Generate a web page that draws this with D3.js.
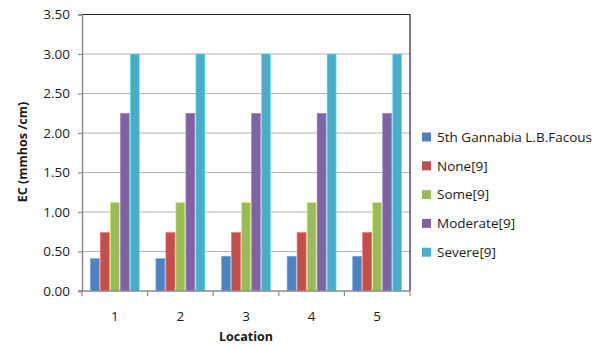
<!DOCTYPE html>
<html>
<head>
<meta charset="utf-8">
<script src="https://cdn.jsdelivr.net/npm/d3@7"></script>
<style>
  html, body { margin: 0; padding: 0; background: #fff; }
  svg { display: block; font-family: "Open Sans", "Liberation Sans", sans-serif; }
</style>
</head>
<body>
<svg id="chart" width="601" height="347"></svg>
<script>
// EC values per location for the measured site and the reference classes
const locations = ["1", "2", "3", "4", "5"];
const seriesNames = ["5th Gannabia L.B.Facous", "None[9]", "Some[9]", "Moderate[9]", "Severe[9]"];
const siteValues = [0.41, 0.41, 0.44, 0.44, 0.44];
const noneValues = [0.74, 0.74, 0.74, 0.74, 0.74];
const someValues = [1.12, 1.12, 1.12, 1.12, 1.12];
const moderateValues = [2.25, 2.25, 2.25, 2.25, 2.25];
const severeValues = [3.00, 3.00, 3.00, 3.00, 3.00];
const yTicks = [0, 0.5, 1.0, 1.5, 2.0, 2.5, 3.0, 3.5];
const colors = ["#4F81BD", "#C0504D", "#9BBB59", "#8064A2", "#4BACC6"];

const allSeries = [siteValues, noneValues, someValues, moderateValues, severeValues];

const svg = d3.select("#chart");
const plot = { left: 82, right: 410, top: 14.5, bottom: 291 };

const x = d3.scaleBand().domain(locations).range([plot.left, plot.right]).paddingInner(0).paddingOuter(0);
const xInner = d3.scaleBand().domain(d3.range(seriesNames.length))
  .range([0, x.bandwidth()]).paddingOuter(0.78).paddingInner(0);
const y = d3.scaleLinear().domain([0, 3.5]).range([plot.bottom, plot.top]);

// horizontal gridlines
svg.append("g").selectAll("line").data(yTicks.slice(1, -1)).join("line")
  .attr("x1", plot.left).attr("x2", plot.right)
  .attr("y1", d => y(d)).attr("y2", d => y(d))
  .attr("stroke", "#B3B3B3").attr("stroke-width", 1.2);

// plot border (top and right)
svg.append("path")
  .attr("d", `M${plot.left},${y(3.5)}H${plot.right}V${plot.bottom}`)
  .attr("fill", "none").attr("stroke", "#262626").attr("stroke-width", 1.2);

// bars
const groups = svg.append("g").selectAll("g").data(locations).join("g")
  .attr("transform", d => `translate(${x(d)},0)`);
groups.selectAll("rect")
  .data((loc, i) => allSeries.map((s, k) => ({ k, v: s[i] })))
  .join("rect")
  .attr("x", d => xInner(d.k) + 0.5)
  .attr("width", xInner.bandwidth() - 1)
  .attr("y", d => y(d.v))
  .attr("height", d => plot.bottom - y(d.v))
  .attr("fill", d => colors[d.k])
  .attr("stroke", d => d3.color(colors[d.k]).brighter(0.8))
  .attr("stroke-width", 0.6);

// y axis
const yAxis = svg.append("g").attr("transform", `translate(${plot.left},0)`)
  .call(d3.axisLeft(y).tickValues(yTicks).tickFormat(d3.format(".2f")).tickSize(4).tickPadding(8));
yAxis.select(".domain").attr("stroke", "#8C8C8C").attr("stroke-width", 1.5);
yAxis.selectAll(".tick line").attr("stroke", "#8C8C8C").attr("stroke-width", 1.2);
yAxis.selectAll("text").attr("font-size", 13.5).attr("fill", "#1a1a1a")
  .attr("font-family", "'Open Sans', sans-serif");

// x axis
const xAxis = svg.append("g").attr("transform", `translate(0,${plot.bottom})`)
  .call(d3.axisBottom(x).tickSize(0).tickPadding(20));
xAxis.select(".domain").remove();
svg.append("line").attr("x1", plot.left - 4).attr("x2", plot.right)
  .attr("y1", plot.bottom).attr("y2", plot.bottom)
  .attr("stroke", "#8C8C8C").attr("stroke-width", 1.5);
svg.append("g").selectAll("line").data(locations.concat(["end"])).join("line")
  .attr("x1", (d, i) => plot.left + i * x.bandwidth())
  .attr("x2", (d, i) => plot.left + i * x.bandwidth())
  .attr("y1", plot.bottom).attr("y2", plot.bottom + 5)
  .attr("stroke", "#8C8C8C").attr("stroke-width", 1.2);
xAxis.selectAll("text").attr("font-size", 13.5).attr("fill", "#1a1a1a")
  .attr("font-family", "'Open Sans', sans-serif");

// axis titles
svg.append("text").attr("x", (plot.left + plot.right) / 2).attr("y", 341)
  .attr("text-anchor", "middle").attr("font-weight", "bold").attr("font-size", 12.5)
  .attr("fill", "#1a1a1a").text("Location");
svg.append("text").attr("transform", `translate(27,${152}) rotate(-90)`)
  .attr("text-anchor", "middle").attr("font-weight", "bold").attr("font-size", 12.5)
  .attr("fill", "#1a1a1a").text("EC (mmhos /cm)");

// legend
const legend = svg.append("g").selectAll("g").data(seriesNames).join("g")
  .attr("transform", (d, i) => `translate(422,${137 + i * 28.8})`);
legend.append("rect").attr("x", 0).attr("y", -4.5).attr("width", 9).attr("height", 9)
  .attr("fill", (d, i) => colors[i]);
legend.append("text").attr("x", 15).attr("y", 0).attr("dy", "0.36em")
  .attr("font-size", 13.5).attr("fill", "#1a1a1a").text(d => d);
</script>
</body>
</html>
